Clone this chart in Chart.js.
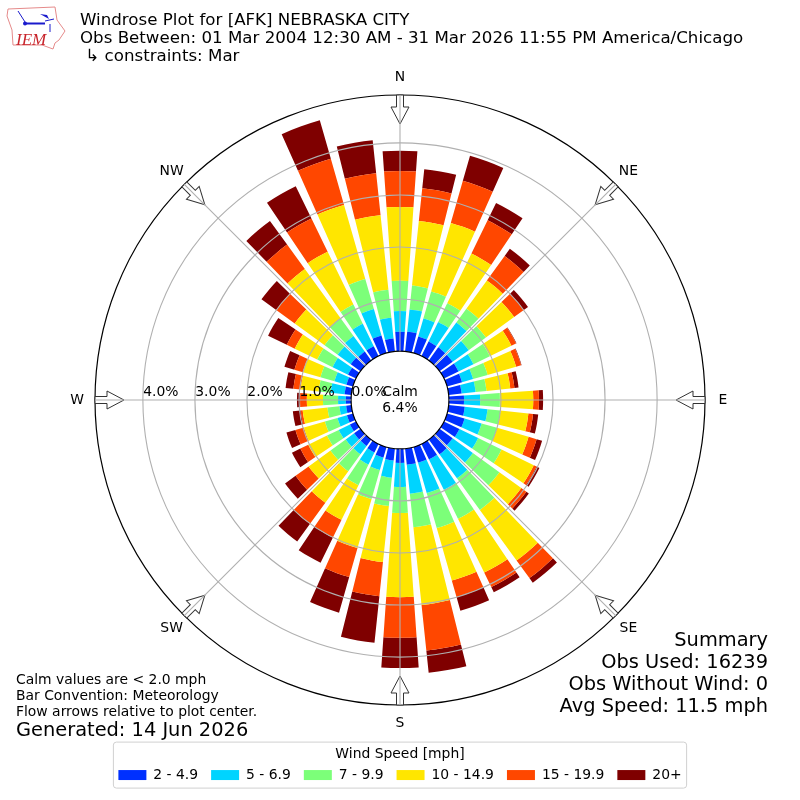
<!DOCTYPE html>
<html>
<head>
<meta charset="utf-8">
<title>Windrose</title>
<script src="https://cdn.jsdelivr.net/npm/chart.js@4/dist/chart.umd.min.js"></script>
<style>
  html, body { margin: 0; padding: 0; background: #fff; }
  canvas { display: block; }
</style>
</head>
<body>
<canvas id="windrose" width="800" height="800"></canvas>
<script>
// direction of each bar, degrees clockwise from north
const directions = [0, 10, 20, 30, 40, 50, 60, 70, 80, 90, 100, 110, 120, 130, 140, 150, 160, 170,
    180, 190, 200, 210, 220, 230, 240, 250, 260, 270, 280, 290, 300, 310, 320, 330, 340, 350];

// percent of observations per speed bin
const speed2to5 = [.37, .38, .33, .31, .31, .31, .31, .30, .25, .29, .31, .35, .33, .31, .35, .33, .31, .31,
    .27, .23, .21, .18, .15, .15, .13, .12, .10, .10, .13, .13, .17, .23, .21, .21, .35, .25];
const speed5to7 = [.40, .43, .36, .42, .59, .38, .32, .22, .27, .31, .44, .34, .40, .48, .57, .65, .61, .56,
    .46, .33, .25, .26, .20, .20, .24, .19, .13, .15, .27, .24, .33, .31, .37, .48, .53, .40];
const speed7to10 = [.58, .46, .54, .40, .33, .41, .35, .29, .21, .38, .25, .31, .50, .63, .75, .62, .70, .65,
    .50, .55, .58, .44, .40, .36, .25, .25, .23, .29, .23, .28, .33, .31, .42, .41, .60, .54];
const speed10to15 = [1.42, 1.25, 1.37, 1.06, .67, .67, .46, .57, .46, .64, .54, .63, .69, .52, 1.20, 1.15, 1.05, 1.50,
    1.62, 1.08, .98, .74, .75, .52, .40, .42, .48, .31, .35, .35, .48, .71, 1.17, 1.13, 1.48, 1.44];
const speed15to20 = [.69, .63, .84, .71, .58, .23, .10, .10, .08, .11, .09, .16, .06, .12, .42, .31, .33, .88,
    .78, .66, .58, .38, .50, .31, .17, .17, .04, .13, .14, .17, .17, .44, .58, .71, .92, .81];
const speed20plus = [.39, .37, .50, .37, .17, .10, .01, .01, .08, .08, .10, .11, .06, .06, .11, .11, .27, .43,
    .58, .90, .71, .54, .42, .25, .18, .18, .15, .06, .15, .20, .40, .35, .56, .69, .77, .64];

const speedLabels = ['2 - 4.9', '5 - 6.9', '7 - 9.9', '10 - 14.9', '15 - 19.9', '20+'];
const speedColors = ['#0030ff', '#00d4ff', '#7cff79', '#ffe600', '#ff4700', '#7f0000'];
const speedSeries = [speed2to5, speed5to7, speed7to10, speed10to15, speed15to20, speed20plus];

const rTicks = [0, 1, 2, 3, 4];
const compass = [['N', 0], ['NE', 45], ['E', 90], ['SE', 135], ['S', 180], ['SW', 225], ['W', 270], ['NW', 315]];

const titleLines = ['Windrose Plot for [AFK] NEBRASKA CITY',
    'Obs Between: 01 Mar 2004 12:30 AM - 31 Mar 2026 11:55 PM America/Chicago',
    ' \u21b3 constraints: Mar'];
const summaryLines = ['Summary', 'Obs Used: 16239', 'Obs Without Wind: 0', 'Avg Speed: 11.5 mph'];
const noteLines = ['Calm values are < 2.0 mph', 'Bar Convention: Meteorology', 'Flow arrows relative to plot center.'];
const generated = 'Generated: 14 Jun 2026';
const calm = ['Calm', '6.4%'];

const rMin = -0.94;
const rMax = 4.92;
const barWidth = 8 * Math.PI / 180;
const FONT = '"DejaVu Sans"';

// polar area bars, but stacked on each other and a bit narrower than their sector
class WindroseController extends Chart.PolarAreaController {
    updateElements(arcs, start, count, mode) {
        const scale = this.chart.scales.r;
        const all = this.chart.data.datasets;
        for (let i = start; i < start + count; i++) {
            let base = 0;
            for (let d = 0; d < this.index; d++) base += all[d].data[i];
            const mid = scale.getIndexAngle(i) - Math.PI / 2;
            this.updateElement(arcs[i], i, {
                x: scale.xCenter,
                y: scale.yCenter,
                innerRadius: scale.getDistanceFromCenterForValue(base),
                outerRadius: scale.getDistanceFromCenterForValue(base + all[this.index].data[i]),
                startAngle: mid - barWidth / 2,
                endAngle: mid + barWidth / 2,
                circumference: barWidth,
                options: this.resolveDataElementOptions(i, mode)
            }, mode);
        }
    }
}
WindroseController.id = 'windrose';
Chart.register(WindroseController);

function drawText(ctx, text, x, y, size, align, color) {
    ctx.font = size + 'px ' + FONT;
    ctx.textAlign = align || 'left';
    ctx.textBaseline = 'middle';
    ctx.fillStyle = color || '#000';
    ctx.fillText(text, x, y);
}

function drawLogo(ctx) {
    ctx.save();
    ctx.strokeStyle = '#e58a8a';
    ctx.lineWidth = 1;
    ctx.beginPath();
    ctx.moveTo(8, 9); ctx.lineTo(55, 7); ctx.lineTo(57, 20); ctx.lineTo(65, 31);
    ctx.lineTo(59, 40); ctx.lineTo(55, 43); ctx.lineTo(53, 49); ctx.lineTo(42, 45);
    ctx.lineTo(13, 45); ctx.lineTo(12, 30); ctx.lineTo(7, 16);
    ctx.closePath();
    ctx.stroke();
    ctx.strokeStyle = '#1a1acc';
    ctx.fillStyle = '#1a1acc';
    ctx.lineWidth = 2;
    ctx.beginPath(); ctx.moveTo(25, 23.5); ctx.lineTo(45, 23.5); ctx.stroke();
    ctx.lineWidth = 1;
    ctx.beginPath();
    ctx.moveTo(18, 11); ctx.lineTo(25, 22); ctx.moveTo(45, 21); ctx.lineTo(54, 19);
    ctx.moveTo(50, 24); ctx.lineTo(50, 32);
    ctx.stroke();
    ctx.beginPath(); ctx.moveTo(40, 14); ctx.lineTo(47, 15); ctx.lineTo(49, 19); ctx.closePath(); ctx.fill();
    ctx.beginPath(); ctx.arc(25, 23.5, 2, 0, Math.PI * 2); ctx.fill();
    ctx.font = 'italic 17px "Liberation Serif"';
    ctx.textAlign = 'left';
    ctx.textBaseline = 'alphabetic';
    ctx.fillStyle = '#c8242b';
    ctx.fillText('IEM', 16, 45);
    ctx.restore();
}

// hollow arrow on the outer ring, pointing at the middle
function drawArrow(ctx, cx, cy, radius, deg) {
    ctx.save();
    ctx.translate(cx, cy);
    ctx.rotate(deg * Math.PI / 180);
    ctx.beginPath();
    ctx.moveTo(-3.5, -radius);
    ctx.lineTo(3.5, -radius);
    ctx.lineTo(3.5, -radius + 12);
    ctx.lineTo(9, -radius + 12);
    ctx.lineTo(0, -radius + 29);
    ctx.lineTo(-9, -radius + 12);
    ctx.lineTo(-3.5, -radius + 12);
    ctx.closePath();
    ctx.fillStyle = '#fff';
    ctx.fill();
    ctx.strokeStyle = '#333';
    ctx.lineWidth = 1;
    ctx.stroke();
    ctx.restore();
}

const annotations = {
    id: 'annotations',
    afterDraw(chart) {
        const ctx = chart.ctx;
        const scale = chart.scales.r;
        const cx = scale.xCenter;
        const cy = scale.yCenter;
        const outer = scale.getDistanceFromCenterForValue(rMax);
        const inner = scale.getDistanceFromCenterForValue(0);

        compass.forEach(([name, deg]) => {
            const a = deg * Math.PI / 180;
            drawArrow(ctx, cx, cy, outer, deg);
            ctx.strokeStyle = '#b0b0b0';
            ctx.lineWidth = 1.1;
            ctx.beginPath();
            ctx.moveTo(cx + Math.sin(a) * inner, cy - Math.cos(a) * inner);
            ctx.lineTo(cx + Math.sin(a) * outer, cy - Math.cos(a) * outer);
            ctx.stroke();
            drawText(ctx, name, cx + Math.sin(a) * (outer + 18), cy - Math.cos(a) * (outer + 18), 13.9, 'center');
        });

        rTicks.forEach(v => {
            const x = cx - scale.getDistanceFromCenterForValue(v) + 18;
            drawText(ctx, v.toFixed(1) + '%', x, cy - 8, 13.9, 'center');
        });
        drawText(ctx, calm[0], cx, cy - 8, 13.9, 'center');
        drawText(ctx, calm[1], cx, cy + 8, 13.9, 'center');

        titleLines.forEach((t, i) => drawText(ctx, t, 80, 21 + i * 18, 16.67));
        summaryLines.forEach((t, i) => drawText(ctx, t, 768, 641 + i * 22, 19.4, 'right'));
        noteLines.forEach((t, i) => drawText(ctx, t, 16, 680 + i * 16, 13.9));
        drawText(ctx, generated, 16, 731, 19.4);
        drawLogo(ctx);

        // frame round the legend
        const boxes = chart.legend.legendHitBoxes;
        const left = boxes[0].left - 5;
        const last = boxes[boxes.length - 1];
        const right = last.left + last.width + 5;
        ctx.strokeStyle = '#d0d0d0';
        ctx.lineWidth = 1;
        ctx.beginPath();
        ctx.roundRect(left, chart.legend.top, right - left, 46, 3);
        ctx.stroke();
    }
};

new Chart(document.getElementById('windrose'), {
    type: 'windrose',
    data: {
        labels: directions.map(String),
        datasets: speedSeries.map((values, i) => ({
            label: speedLabels[i],
            data: values,
            backgroundColor: speedColors[i],
            borderWidth: 0
        }))
    },
    options: {
        responsive: false,
        animation: false,
        devicePixelRatio: 1,
        layout: { padding: { top: 58, left: 95, right: 95, bottom: 8 } },
        scales: {
            r: {
                min: rMin,
                max: rMax,
                afterBuildTicks(scale) {
                    scale.ticks = [rMin].concat(rTicks, rMax).map(value => ({ value }));
                },
                angleLines: { display: false },
                pointLabels: { display: false },
                ticks: { display: false },
                grid: {
                    z: 1,
                    circular: true,
                    color: c => (c.tick.value === 0 || c.tick.value === rMax) ? '#000' : '#b0b0b0',
                    lineWidth: c => c.tick.value === rMin ? 0 : ((c.tick.value === 0 || c.tick.value === rMax) ? 1.2 : 1.1)
                }
            }
        },
        plugins: {
            tooltip: { enabled: false },
            title: { display: false },
            legend: {
                display: true,
                position: 'bottom',
                title: {
                    display: true,
                    text: 'Wind Speed [mph]',
                    color: '#000',
                    font: { family: FONT, size: 13.9 },
                    padding: { top: 5, bottom: -8.68 }
                },
                labels: {
                    boxWidth: 28,
                    boxHeight: 10,
                    padding: 13,
                    color: '#000',
                    font: { family: FONT, size: 13.9 },
                    generateLabels: chart => chart.data.datasets.map((ds, i) => ({
                        text: ds.label,
                        fillStyle: ds.backgroundColor,
                        strokeStyle: ds.backgroundColor,
                        lineWidth: 0,
                        hidden: false,
                        datasetIndex: i
                    }))
                }
            }
        }
    },
    plugins: [annotations]
});
</script>
</body>
</html>
